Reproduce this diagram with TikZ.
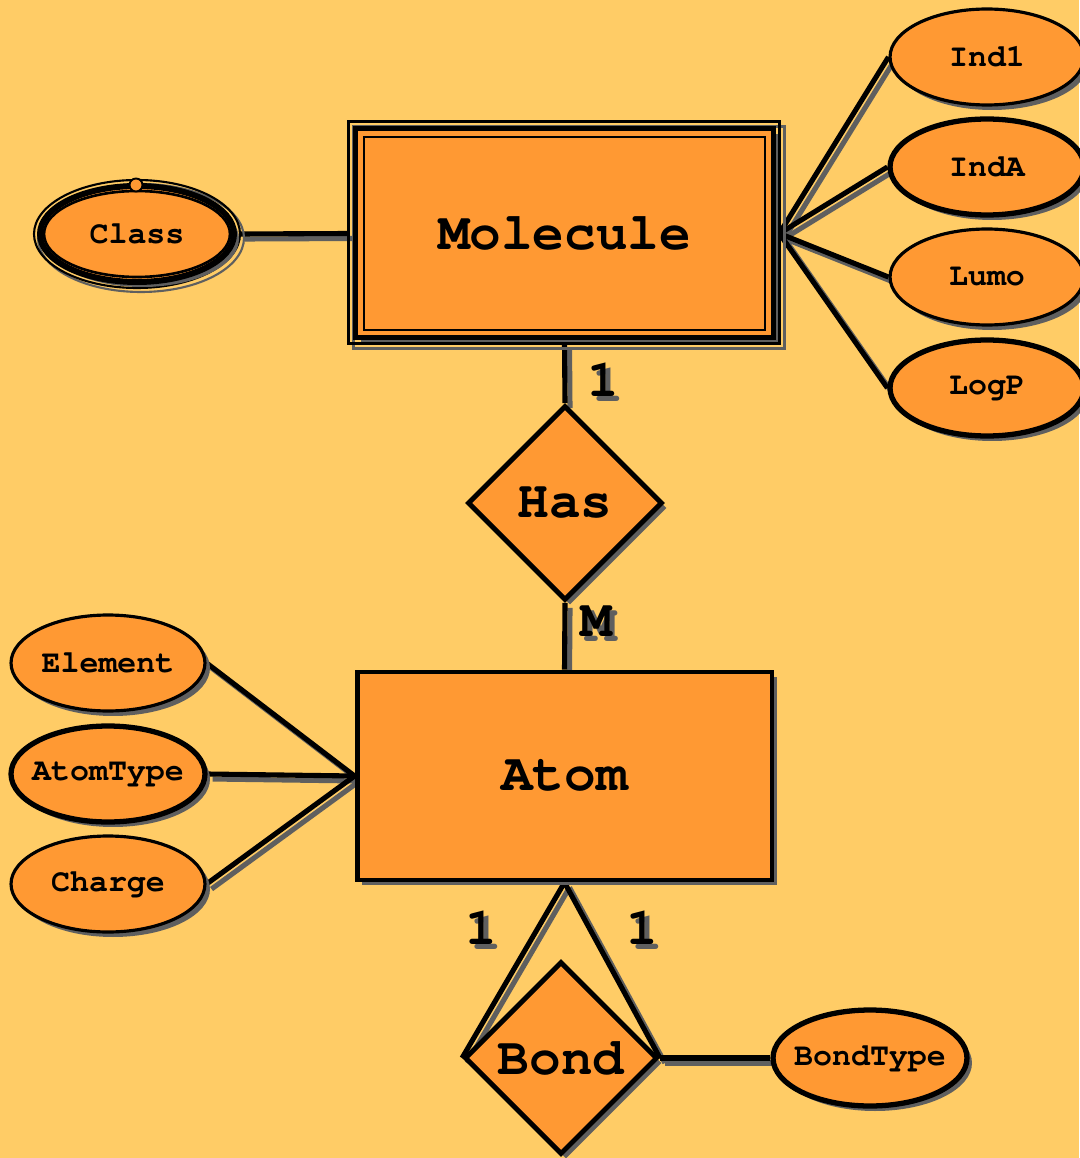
\documentclass[tikz,border=0pt]{standalone}
\usepackage{fontspec}
\newcommand\erfont{\fontencoding{T1}\fontfamily{pcr}\fontseries{b}\selectfont}
\usetikzlibrary{shapes.geometric,shadows,calc}
\definecolor{bgyellow}{RGB}{255,204,102}
\definecolor{erorange}{RGB}{255,153,51}
\definecolor{shadegray}{RGB}{95,95,95}
\pgfdeclarelayer{back}
\pgfdeclarelayer{links}
\pgfsetlayers{back,links,main}
\newcommand\nobox[1]{\makebox[0pt]{#1}}

\begin{document}
\begin{tikzpicture}[x=0.02cm,y=-0.02cm,
  big/.style={font=\erfont\fontsize{30}{30}\selectfont},
  small/.style={font=\erfont\fontsize{18}{18}\selectfont},
  shade/.style={drop shadow={shadow xshift=0.1cm,shadow yshift=-0.1cm,fill=shadegray,opacity=1}},
  entity/.style={rectangle,draw,fill=erorange,line width=2.8pt,big},
  relship/.style={diamond,aspect=1,draw,fill=erorange,line width=2.8pt,big,inner sep=0pt,minimum size=3.9cm,shade},
  attr/.style={ellipse,draw,fill=erorange,line width=1.8pt,small,minimum width=3.88cm,minimum height=1.92cm,inner sep=0pt},
  heavy/.style={line width=3pt},
  link/.style={line width=2.9pt},
  card/.style={big,inner sep=0pt}]
  \useasboundingbox (0,0) rectangle (1079,1158);
  \begin{pgfonlayer}{back}
    \fill[bgyellow] (0,0) rectangle (1079,1158);
  \end{pgfonlayer}

  % entities and relationships
  \node[entity,line width=1.6pt,minimum width=8.02cm,minimum height=3.86cm] (mol) at (564.5,233.5) {Molecule};
  \node[relship] (has) at (565,503) {Has};
  \node[entity,shade,minimum width=8.3cm,minimum height=4.16cm] (atom) at (564.5,776) {Atom};
  \node[relship,minimum size=3.86cm] (bond) at (561,1058) {Bond};

  % attributes
  \node[attr,line width=1.5pt,minimum width=3.72cm,minimum height=1.72cm] (cls) at (137,234) {\nobox{Class}};
  \node[attr,shade] (ind1) at (987,57) {\nobox{Ind1}};
  \node[attr,shade,heavy] (inda) at (987,167) {\nobox{IndA}};
  \node[attr,shade] (lumo) at (987,277) {\nobox{Lumo}};
  \node[attr,shade,heavy] (logp) at (987,388) {\nobox{LogP}};
  \node[attr,shade] (elem) at (108,663) {\nobox{Element}};
  \node[attr,shade,heavy] (atype) at (108,774) {\nobox{AtomType}};
  \node[attr,shade] (charge) at (108,884) {\nobox{Charge}};
  \node[attr,shade,heavy] (btype) at (870,1058) {\nobox{BondType}};
  \node[circle,draw,fill=erorange,line width=1.1pt,inner sep=0pt,minimum size=0.26cm] (mv) at (136,185) {};

  \coordinate (mR) at ([shift={(13,0)}]mol.east);
  \coordinate (mL) at ([shift={(-14,0)}]mol.west);
  \coordinate (mB) at ([shift={(0,12)}]mol.south);
  \coordinate (cR) at ([shift={(103,0)}]cls.center);

  \begin{pgfonlayer}{links}
    % connectors, grey copy first
    \foreach \col/\sh in {shadegray/5,black/0} {
      \begin{scope}[transform canvas={shift={(\sh,\sh)}}]
        \draw[link,\col] (cR) -- (mL);
        \foreach \a in {ind1,inda,lumo,logp}
          \draw[link,\col] (mR) -- (\a.west);
        \draw[link,\col] (mB) -- (has.north);
        \draw[link,\col] (has.south) -- (atom.north);
        \foreach \a in {elem,atype,charge}
          \draw[link,\col] (\a.east) -- (atom.west);
        \draw[link,\col] (atom.south) -- (bond.west);
        \draw[link,\col] (atom.south) -- (bond.east);
        \draw[link,\col] (bond.east) -- (btype.west);
      \end{scope}
    }
    % weak entity and multivalued borders
    \draw[line width=1.3pt,shadegray,transform canvas={shift={(5,5)}}] ([shift={(-14,-14)}]mol.north west) rectangle ([shift={(13,12)}]mol.south east);
    \draw[line width=1.3pt] ([shift={(-14,-14)}]mol.north west) rectangle ([shift={(13,12)}]mol.south east);
    \filldraw[fill=erorange,line width=2.8pt,shade] ([shift={(-7,-7)}]mol.north west) rectangle ([shift={(7,6)}]mol.south east);
    \draw[line width=1.2pt,shadegray,transform canvas={shift={(4,4)}}] (cls.center) ellipse [x radius=103,y radius=54];
    \draw[line width=1.2pt] (cls.center) ellipse [x radius=103,y radius=54];
    \filldraw[fill=erorange,line width=3.4pt,shade] (cls.center) ellipse [x radius=97,y radius=48];
  \end{pgfonlayer}

  % cardinalities
  \foreach \col/\sh in {shadegray/5,black/0} {
    \node[card,\col] (c1\col) at ([shift={(\sh,\sh)}]603,380) {1};
    \node[card,\col] (cm\col) at ([shift={(\sh,\sh)}]596,622) {M};
    \node[card,\col] (cl\col) at ([shift={(\sh,\sh)}]481,928) {1};
    \node[card,\col] (cr\col) at ([shift={(\sh,\sh)}]642,928) {1};
  }
\end{tikzpicture}
\end{document}
